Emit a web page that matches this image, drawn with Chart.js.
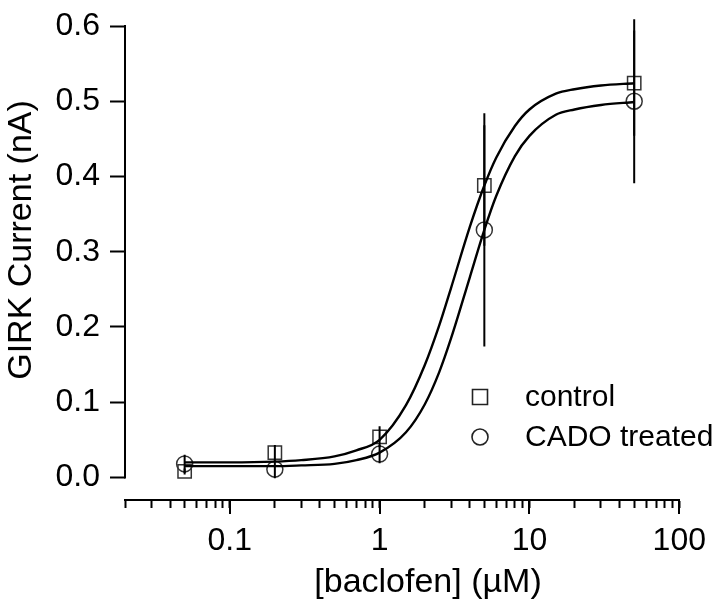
<!DOCTYPE html>
<html>
<head>
<meta charset="utf-8">
<style>
  html, body { margin: 0; padding: 0; background: #fff; }
  #wrap { width: 720px; height: 602px; }
</style>
<script src="https://cdn.jsdelivr.net/npm/chart.js@4"></script>
</head>
<body>
<div id="wrap"><canvas id="myChart" width="720" height="602"></canvas></div>
<script>
// concentrations of the measured points (uM)
const doses = [0.05, 0.2, 1, 5, 50];

// measured means and error bars
const controlMean = [0.008, 0.033, 0.054, 0.388, 0.524];
const controlErr = [0.004, 0.010, 0.014, 0.080, 0.070];
const cadoMean = [0.018, 0.011, 0.031, 0.329, 0.500];
const cadoErr = [0.012, 0.012, 0.012, 0.155, 0.109];

// fitted curves
const fitDoses = [0.05, 0.1, 0.2, 0.3, 0.5, 0.7, 1, 1.5, 2, 2.5, 3, 4, 5, 6, 8, 10, 15, 20, 30, 50];
const controlFit = [0.020, 0.020, 0.021, 0.023, 0.028, 0.036, 0.050, 0.096, 0.149, 0.202, 0.252, 0.333, 0.388, 0.425, 0.467, 0.489, 0.510, 0.516, 0.521, 0.524];
const cadoFit = [0.015, 0.015, 0.015, 0.016, 0.018, 0.023, 0.033, 0.060, 0.097, 0.140, 0.185, 0.266, 0.329, 0.374, 0.427, 0.454, 0.482, 0.489, 0.495, 0.499];

// axis ticks
const yTicks = [0, 0.1, 0.2, 0.3, 0.4, 0.5, 0.6];
const xMajor = [0.1, 1, 10, 100];
const xMinor = [0.02, 0.03, 0.04, 0.05, 0.06, 0.07, 0.08, 0.09,
                0.2, 0.3, 0.4, 0.5, 0.6, 0.7, 0.8, 0.9,
                2, 3, 4, 5, 6, 7, 8, 9,
                20, 30, 40, 50, 60, 70, 80, 90];

const xTitle = '[baclofen] (\u00B5M)';
const yTitle = 'GIRK Current (nA)';

const FONT = "'Liberation Sans', Arial, sans-serif";
Chart.defaults.font.family = FONT;
Chart.defaults.color = '#000';

function pts(xs, ys) {
  return xs.map((v, i) => ({ x: v, y: ys[i] }));
}

function errPts(xs, ys, es) {
  const out = [];
  xs.forEach((v, i) => {
    out.push({ x: v, y: ys[i] - es[i] });
    out.push({ x: v, y: ys[i] + es[i] });
    out.push({ x: v, y: null });
  });
  return out;
}

// axis line, decade ticks, titles and legend
const extras = {
  id: 'extras',
  afterDraw(chart) {
    const { ctx, chartArea } = chart;
    const x = chart.scales.x;
    const y = chart.scales.y;
    ctx.save();
    ctx.strokeStyle = '#000';
    ctx.lineWidth = 2;

    // y axis line only over the data range
    ctx.beginPath();
    ctx.moveTo(chartArea.left, y.getPixelForValue(yTicks[0]) + 1);
    ctx.lineTo(chartArea.left, y.getPixelForValue(yTicks[yTicks.length - 1]) - 1);
    ctx.stroke();

    // longer ticks at each decade
    xMajor.forEach(v => {
      const px = Math.round(x.getPixelForValue(v));
      ctx.beginPath();
      ctx.moveTo(px, chartArea.bottom);
      ctx.lineTo(px, chartArea.bottom + 14);
      ctx.stroke();
    });

    // axis titles
    ctx.fillStyle = '#000';
    ctx.font = '34px ' + FONT;
    ctx.textAlign = 'center';
    ctx.textBaseline = 'middle';
    ctx.fillText(xTitle, 428, 583);
    ctx.save();
    ctx.translate(22, 240);
    ctx.rotate(-Math.PI / 2);
    ctx.fillText(yTitle, 0, 0);
    ctx.restore();

    // legend
    const items = chart.data.datasets.filter(d => d.legend);
    ctx.font = '30px ' + FONT;
    ctx.textAlign = 'left';
    items.forEach((d, i) => {
      const cy = 397 + i * 40;
      const cx = 480;
      ctx.strokeStyle = '#222';
      ctx.lineWidth = 1.6;
      ctx.beginPath();
      if (d.pointStyle === 'rect') {
        ctx.rect(cx - 7.5, cy - 7.5, 15, 15);
      } else {
        ctx.arc(cx, cy, 8, 0, Math.PI * 2);
      }
      ctx.stroke();
      ctx.fillStyle = '#000';
      ctx.fillText(d.label, 525, cy + 1);
    });
    ctx.restore();
  }
};

const ctx = document.getElementById('myChart').getContext('2d');
const myChart = new Chart(ctx, {
  type: 'line',
  data: {
    datasets: [
      {
        label: 'control fit',
        data: pts(fitDoses, controlFit),
        borderColor: '#000',
        borderWidth: 2.4,
        pointRadius: 0,
        cubicInterpolationMode: 'monotone',
        fill: false
      },
      {
        label: 'CADO fit',
        data: pts(fitDoses, cadoFit),
        borderColor: '#000',
        borderWidth: 2.4,
        pointRadius: 0,
        cubicInterpolationMode: 'monotone',
        fill: false
      },
      {
        label: 'control error',
        data: errPts(doses, controlMean, controlErr),
        borderColor: '#000',
        borderWidth: 2,
        pointRadius: 0,
        spanGaps: false,
        clip: false,
        fill: false
      },
      {
        label: 'CADO error',
        data: errPts(doses, cadoMean, cadoErr),
        borderColor: '#000',
        borderWidth: 2,
        pointRadius: 0,
        spanGaps: false,
        clip: false,
        fill: false
      },
      {
        label: 'control',
        legend: true,
        data: pts(doses, controlMean),
        showLine: false,
        clip: false,
        pointStyle: 'rect',
        pointRadius: 9.4,
        pointBorderWidth: 1.5,
        pointBorderColor: '#333',
        pointBackgroundColor: 'rgba(0,0,0,0)'
      },
      {
        label: 'CADO treated',
        legend: true,
        data: pts(doses, cadoMean),
        showLine: false,
        clip: false,
        pointStyle: 'circle',
        pointRadius: 8,
        pointBorderWidth: 1.5,
        pointBorderColor: '#333',
        pointBackgroundColor: 'rgba(0,0,0,0)'
      }
    ]
  },
  options: {
    responsive: false,
    animation: false,
    devicePixelRatio: 1,
    layout: { padding: { left: 0, top: 18, right: 38, bottom: 0 } },
    plugins: {
      legend: { display: false },
      tooltip: { enabled: false }
    },
    scales: {
      x: {
        type: 'logarithmic',
        min: 0.02,
        max: 100,
        afterBuildTicks: s => {
          s.ticks = xMinor.concat(xMajor).sort((a, b) => a - b)
            .map(v => ({ value: v, major: xMajor.includes(v) }));
        },
        afterFit: s => { s.height = 102; },
        border: { display: true, color: '#000', width: 2 },
        grid: {
          drawOnChartArea: false,
          tickLength: 8,
          tickWidth: 2,
          tickColor: '#000'
        },
        ticks: {
          autoSkip: false,
          maxRotation: 0,
          padding: 14,
          font: { size: 32 },
          callback: v => xMajor.includes(v) ? String(v) : ''
        }
      },
      y: {
        min: -0.03,
        max: 0.6,
        afterBuildTicks: s => {
          s.ticks = yTicks.map(v => ({ value: v }));
        },
        afterFit: s => { s.width = 125; },
        border: { display: false },
        grid: {
          drawOnChartArea: false,
          tickLength: 15,
          tickWidth: 2,
          tickColor: '#000'
        },
        ticks: {
          padding: 10,
          font: { size: 32, lineHeight: 1 },
          callback: v => v.toFixed(1)
        }
      }
    }
  },
  plugins: [extras]
});
</script>
</body>
</html>
